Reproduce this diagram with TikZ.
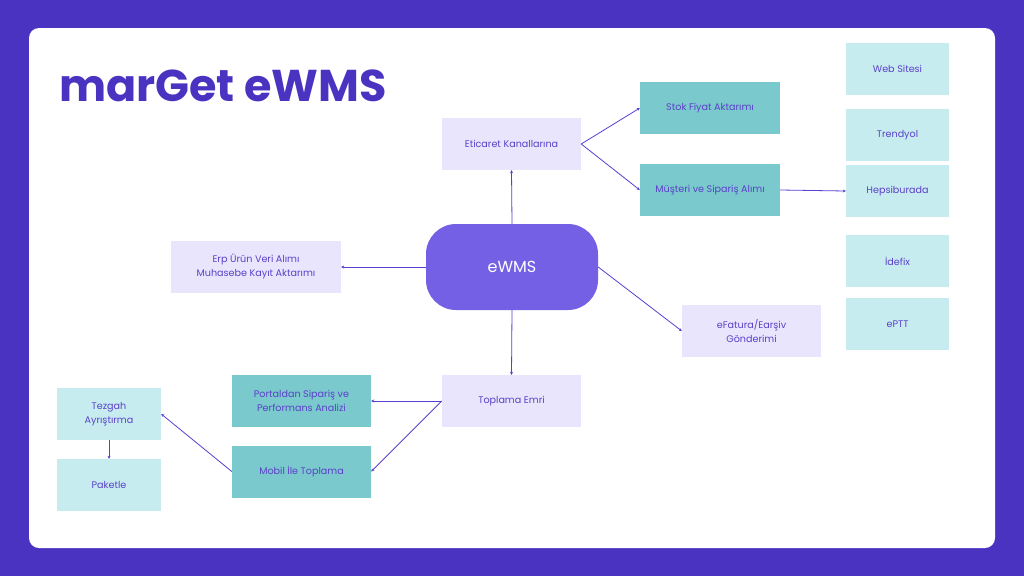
\documentclass[tikz,border=0pt]{standalone}
\usepackage{fontspec}
\setmainfont{Poppins}
\usetikzlibrary{arrows.meta}
\definecolor{bgpurple}{HTML}{4B33C2}
\definecolor{txtpurple}{HTML}{5B40C9}
\definecolor{lav}{HTML}{E9E5FC}
\definecolor{teal}{HTML}{7AC9CD}
\definecolor{cyanl}{HTML}{C6ECF0}
\definecolor{hub}{HTML}{7460E4}
\definecolor{linec}{HTML}{5A3FD0}
\tikzset{
  box/.style={rectangle, inner sep=0pt, align=center, text=txtpurple, font=\fontsize{9.6}{14}\selectfont, minimum width=139pt, minimum height=52pt},
  lavbox/.style={box, fill=lav},
  tealbox/.style={box, fill=teal},
  cyanbox/.style={box, fill=cyanl, minimum width=103pt},
  conn/.style={draw=linec, line width=0.8pt, -{Stealth[length=3pt,width=3pt]}},
}
\begin{document}
\begin{tikzpicture}[x=1pt,y=-1pt]
\useasboundingbox (0,0) rectangle (1024,576);
\fill[bgpurple] (0,0) rectangle (1024,576);
\fill[white, rounded corners=10pt] (29,28) rectangle (995,548);
\node[anchor=base west, text=bgpurple, font=\fontsize{44.5}{44.5}\selectfont\bfseries, inner sep=0pt] (title) at (59,101) {marGet eWMS};

\node[cyanbox] (web) at (897.5,69) {Web Sitesi};
\node[cyanbox] (trendyol) at (897.5,135) {Trendyol};
\node[cyanbox] (hb) at (897.5,191) {Hepsiburada};
\node[cyanbox] (idefix) at (897.5,261) {İdefix};
\node[cyanbox] (eptt) at (897.5,324) {ePTT};

\node[tealbox, minimum width=140pt] (stok) at (710,108) {Stok Fiyat Aktarımı};
\node[tealbox, minimum width=140pt] (musteri) at (710,190) {Müşteri ve Sipariş Alımı};
\node[lavbox] (eticaret) at (511.5,144) {Eticaret Kanallarına};
\node[lavbox, minimum width=170pt] (erp) at (256,267) {Erp Ürün Veri Alımı\\Muhasebe Kayıt Aktarımı};
\node[rectangle, rounded corners=30pt, fill=hub, minimum width=172pt, minimum height=86pt, text=white, font=\fontsize{16}{18}\selectfont, inner sep=0pt] (ewms) at (512,267) {eWMS};
\node[lavbox] (efatura) at (751.5,331) {eFatura/Earşiv\\Gönderimi};
\node[lavbox] (toplama) at (511.5,401) {Toplama Emri};
\node[tealbox] (portal) at (301.5,401) {Portaldan Sipariş ve\\Performans Analizi};
\node[tealbox] (mobil) at (301.5,471.5) {Mobil İle Toplama};
\node[cyanbox, minimum width=104pt] (tezgah) at (109,414) {Tezgah\\Ayrıştırma};
\node[cyanbox, minimum width=104pt] (paketle) at (109,485) {Paketle};

\draw[conn] (ewms.north) -- (eticaret.south);
\draw[conn] (eticaret.east) -- (stok.west);
\draw[conn] (eticaret.east) -- (musteri.west);
\draw[conn] (musteri.east) -- (hb.west);
\draw[conn] (ewms.west) -- (erp.east);
\draw[conn] (ewms.east) -- (efatura.west);
\draw[conn] (ewms.south) -- (toplama.north);
\draw[conn] (toplama.west) -- (portal.east);
\draw[conn] (toplama.west) -- (mobil.east);
\draw[conn] (mobil.west) -- (tezgah.east);
\draw[conn] (tezgah.south) -- (paketle.north);
\end{tikzpicture}
\end{document}
